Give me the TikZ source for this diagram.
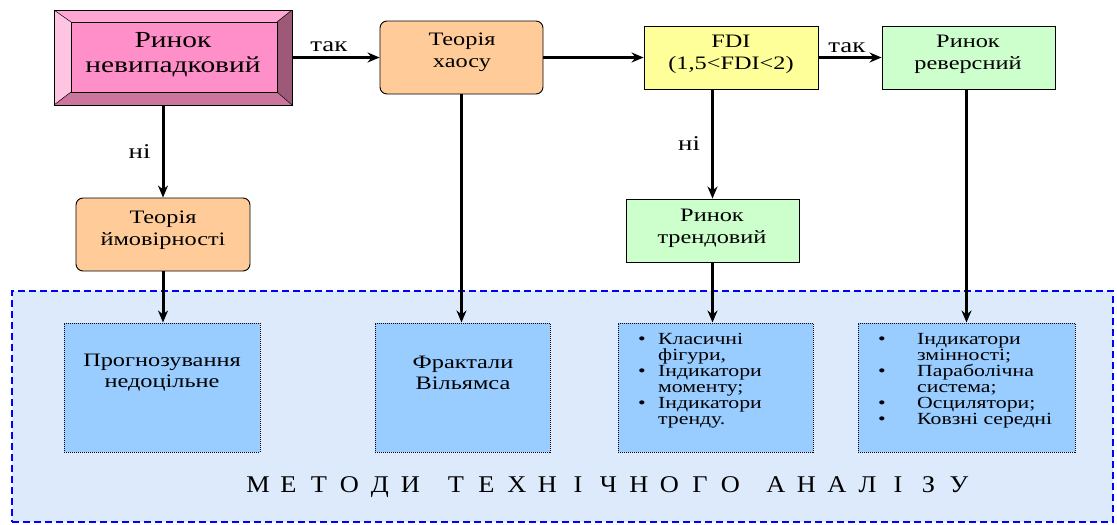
\documentclass[tikz,border=0pt]{standalone}
\usepackage{fontspec}
\setmainfont{Liberation Serif}[FakeStretch=1.28]
\newfontfamily\titlefont{Liberation Serif}[FakeStretch=1.1]
\usetikzlibrary{arrows.meta}
\definecolor{pinkmid}{HTML}{FF8FC8}
\definecolor{pinklight}{HTML}{FFC4E2}
\definecolor{pinktop}{HTML}{FFA6D3}
\definecolor{pinkdark}{HTML}{9E5878}
\definecolor{pinkbot}{HTML}{CC769E}
\definecolor{orangefill}{HTML}{FFCC99}
\definecolor{yellowfill}{HTML}{FFFF99}
\definecolor{greenfill}{HTML}{CCFFCC}
\definecolor{bluebox}{HTML}{99CCFF}
\definecolor{regionfill}{HTML}{DDEAFB}
\definecolor{regionline}{HTML}{0000FF}
\newcommand\tletter[1]{\makebox[30.5pt]{#1}}
\newcommand\tgap{\hspace*{15pt}}
\newcommand\bul[1]{\makebox[#1][l]{•}}
\begin{document}
\begin{tikzpicture}[x=1pt,y=-1pt,
  box/.style={draw=black,line width=0.9pt,inner sep=0pt},
  orangebox/.style={box,fill=orangefill,rounded corners=7pt},
  yellowbox/.style={box,fill=yellowfill},
  greenbox/.style={box,fill=greenfill},
  methodbox/.style={draw=black,densely dotted,line width=1pt,fill=bluebox,inner sep=0pt},
  txt/.style={align=center,inner sep=0pt,font=\fontsize{19}{22}\selectfont},
  midtxt/.style={align=center,inner sep=0pt,font=\fontsize{19}{21}\selectfont},
  listtxt/.style={align=left,inner sep=0pt,anchor=north west,font=\fontsize{17}{16}\selectfont},
  lbl/.style={inner sep=0pt,font=\fontsize{21}{22}\selectfont},
  arr/.style={line width=3pt,-{Stealth[length=12pt,width=10pt]}}]
\useasboundingbox (0,0) rectangle (1117,525);

% background region
\node[draw=regionline,line width=1.6pt,dash pattern=on 7pt off 4pt,fill=regionfill,
      minimum width=1101pt,minimum height=231pt,inner sep=0pt] (region) at (562.5,406.5) {};

% top row
\node[minimum width=238pt,minimum height=95pt,inner sep=0pt] (nev) at (173,57.5) {};
\fill[pinktop] (54,10) -- (292,10) -- (277,22) -- (71,22) -- cycle;
\fill[pinklight] (54,10) -- (71,22) -- (71,92) -- (54,105) -- cycle;
\fill[pinkdark] (292,10) -- (292,105) -- (277,92) -- (277,22) -- cycle;
\fill[pinkbot] (54,105) -- (71,92) -- (277,92) -- (292,105) -- cycle;
\draw[fill=pinkmid,line width=0.9pt] (71,22) rectangle (277,92);
\draw[line width=0.9pt] (54,10) rectangle (292,105);
\draw[line width=0.5pt] (54,10) -- (71,22) (292,10) -- (277,22) (54,105) -- (71,92) (292,105) -- (277,92);
\node[txt,font=\fontsize{23}{25}\selectfont] (nevt) at (173,55) {Ринок\\невипадковий};

\node[orangebox,minimum width=163pt,minimum height=73pt] (haos) at (461.5,57.5) {};
\node[txt] (haost) at (462,52) {Теорія\\хаосу};

\node[yellowbox,minimum width=174pt,minimum height=63pt] (fdi) at (731,57.5) {};
\node[txt] (fdit) at (731,54) {FDI\\(1,5<FDI<2)};

\node[greenbox,minimum width=173pt,minimum height=63pt] (rev) at (968.5,57.5) {};
\node[txt] (revt) at (968,54) {Ринок\\реверсний};

% second row
\node[orangebox,minimum width=174pt,minimum height=73pt] (imov) at (163,234.5) {};
\node[txt] (imovt) at (163,230) {Теорія\\ймовірності};

\node[greenbox,minimum width=173pt,minimum height=63pt] (trend) at (712.5,230.5) {};
\node[txt] (trendt) at (712,228) {Ринок\\трендовий};

% method boxes
\node[methodbox,minimum width=196pt,minimum height=129pt] (prog) at (162,387.5) {};
\node[midtxt] (progt) at (162,373) {Прогнозування\\недоцільне};

\node[methodbox,minimum width=175pt,minimum height=129pt] (frakt) at (462.5,387.5) {};
\node[midtxt] (fraktt) at (463,373) {Фрактали\\Вільямса};

\node[methodbox,minimum width=195pt,minimum height=129pt] (klas) at (715.5,387.5) {};
\node[listtxt] (klast) at (638,333) {\bul{20pt}Класичні\\\hspace*{20pt}фігури,\\
  \bul{20pt}Індикатори\\\hspace*{20pt}моменту;\\
  \bul{20pt}Індикатори\\\hspace*{20pt}тренду.};

\node[methodbox,minimum width=217pt,minimum height=129pt] (ind) at (966.5,387.5) {};
\node[listtxt] (indt) at (878,333) {\bul{39pt}Індикатори\\\hspace*{39pt}змінності;\\
  \bul{39pt}Параболічна\\\hspace*{39pt}система;\\
  \bul{39pt}Осцилятори;\\
  \bul{39pt}Ковзні середні};

% title
\node[inner sep=0pt,font=\titlefont\fontsize{24}{26}\selectfont] (title) at (608.5,487)
  {\tletter{М}\tletter{Е}\tletter{Т}\tletter{О}\tletter{Д}\tletter{И}\tgap
   \tletter{Т}\tletter{Е}\tletter{Х}\tletter{Н}\tletter{І}\tletter{Ч}\tletter{Н}\tletter{О}\tletter{Г}\tletter{О}\tgap
   \tletter{А}\tletter{Н}\tletter{А}\tletter{Л}\tletter{І}\tletter{З}\tletter{У}};

% connectors
\draw[arr] (nev.east) -- (haos.west) node[lbl,pos=0.42,anchor=south,yshift=4pt] {так};
\draw[arr] (haos.east) -- (fdi.west);
\draw[arr] (fdi.east) -- (rev.west) node[lbl,pos=0.45,anchor=south,yshift=3pt] {так};
\draw[arr] (nev.south -| imov.north) -- (imov.north) node[lbl,midway,anchor=east,xshift=-11pt] {ні};
\draw[arr] (fdi.south -| trend.north) -- (trend.north) node[lbl,midway,anchor=east,xshift=-11pt] {ні};
\draw[arr] (imov.south) -- (imov.south |- prog.north);
\draw[arr] (haos.south) -- (haos.south |- frakt.north);
\draw[arr] (trend.south) -- (trend.south |- klas.north);
\draw[arr] (ind.north |- rev.south) -- (ind.north);
\end{tikzpicture}
\end{document}
